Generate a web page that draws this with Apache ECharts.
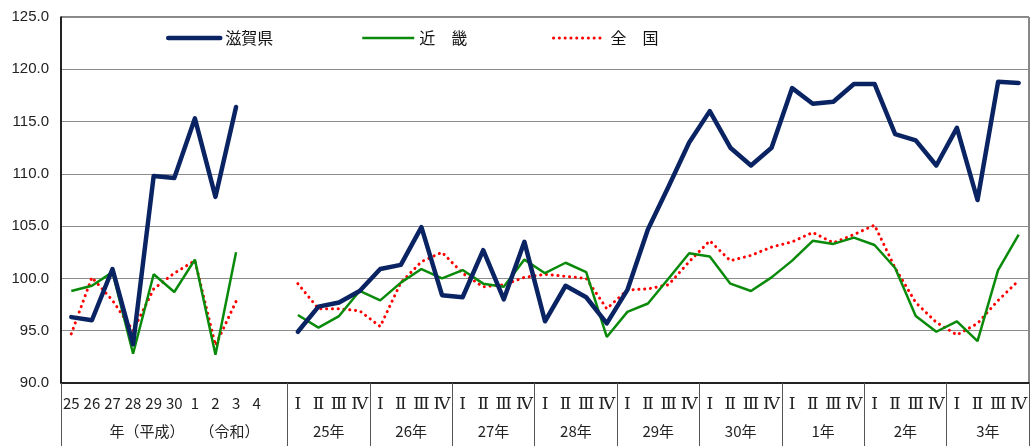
<!DOCTYPE html>
<html>
<head>
<meta charset="utf-8">
<script src="https://cdn.jsdelivr.net/npm/echarts@6/dist/echarts.min.js"></script>
<style>
    html, body { margin: 0; padding: 0; background: #fff; }
    .index .chart { width: 1032px; height: 446px; }
</style>
</head>
<body>
<div class="index"><div class="chart"></div></div>
<script>
// 年次（平成25年～令和4年）
var yearLabels = ['25', '26', '27', '28', '29', '30', '1', '2', '3', '4'];
// 四半期
var quarterLabels = ['Ⅰ', 'Ⅱ', 'Ⅲ', 'Ⅳ'];
var quarterYears = ['25年', '26年', '27年', '28年', '29年', '30年', '1年', '2年', '3年'];
var yearGroupLabel = '年（平成）　　（令和）';

var seriesNames = ['滋賀県', '近　畿', '全　国'];

var shigaYear = [96.3, 96.0, 100.9, 93.7, 109.8, 109.6, 115.3, 107.8, 116.4, null];
var kinkiYear = [98.8, 99.3, 100.6, 92.8, 100.4, 98.7, 101.8, 92.7, 102.5, null];
var zenkokuYear = [94.7, 100.1, 97.9, 95.0, 99.0, 100.5, 101.7, 93.6, 97.8, null];

var shigaQuarter = [94.9, 97.3, 97.7, 98.8, 100.9, 101.3, 104.9, 98.4, 98.2, 102.7, 98.0, 103.5,
    95.9, 99.3, 98.2, 95.7, 98.9, 104.7, 108.8, 113.0, 116.0, 112.5, 110.8, 112.5,
    118.2, 116.7, 116.9, 118.6, 118.6, 113.8, 113.2, 110.8, 114.4, 107.5, 118.8, 118.7];
var kinkiQuarter = [96.5, 95.3, 96.4, 98.8, 97.9, 99.6, 100.9, 100.0, 100.8, 99.5, 99.2, 101.8,
    100.5, 101.5, 100.6, 94.4, 96.8, 97.6, 100.0, 102.4, 102.1, 99.5, 98.8, 100.1,
    101.7, 103.6, 103.3, 103.9, 103.2, 101.0, 96.4, 94.9, 95.9, 94.0, 100.8, 104.2];
var zenkokuQuarter = [99.5, 97.1, 97.1, 96.9, 95.4, 99.6, 101.6, 102.5, 100.5, 99.2, 99.4, 100.1,
    100.4, 100.2, 100.0, 97.1, 98.9, 99.0, 99.4, 101.6, 103.6, 101.7, 102.2, 103.0,
    103.5, 104.4, 103.4, 104.2, 105.1, 101.0, 97.7, 95.8, 94.6, 95.7, 97.9, 99.8];

(function () {
    var myChart = echarts.init(document.querySelector('.index .chart'));

    // 1段目の区分：年次 + 空き1枠 + 四半期
    var categories = yearLabels.slice();
    categories.push('');
    quarterYears.forEach(function () {
        categories = categories.concat(quarterLabels);
    });
    var nYear = yearLabels.length + 1;

    function join(yearData, quarterData) {
        return yearData.concat([null]).concat(quarterData);
    }

    // 2段目のラベル位置と区切り線
    var groupPos = [6];
    var groupText = {6: yearGroupLabel};
    var groupTicks = [0, nYear];
    quarterYears.forEach(function (y, i) {
        var p = nYear + i * 4 + 2;
        groupPos.push(p);
        groupText[p] = y;
        groupTicks.push(nYear + (i + 1) * 4);
    });

    var cjk = "'Noto Sans CJK JP', sans-serif";

    var lineStyles = [
        { color: '#0a2463', width: 4.5, cap: 'round', join: 'round' },
        { color: '#0a8a0a', width: 2.5 },
        { color: '#ff0000', width: 3, type: [0.1, 5.7], cap: 'round' }
    ];

    function legendAt(left, idx) {
        return {
            left: left,
            top: 30,
            padding: 0,
            itemWidth: 52,
            itemHeight: 14,
            data: [seriesNames[idx]],
            // 凡例は線だけ（記号なし）
            itemStyle: { opacity: 0 },
            lineStyle: lineStyles[idx],
            textStyle: { fontSize: 16, color: '#111', fontFamily: cjk }
        };
    }

    var option = {
        animation: false,
        legend: [
            legendAt(166, 0),
            legendAt(361, 1),
            legendAt(552, 2)
        ],
        grid: {
            left: 61,
            right: 3,
            top: 17,
            bottom: 63,
            show: true,
            borderColor: '#111',
            borderWidth: 1
        },
        xAxis: [
            {
                type: 'category',
                data: categories,
                boundaryGap: true,
                axisLine: { lineStyle: { color: '#000', width: 1.5 } },
                axisTick: {
                    interval: 0,
                    length: 32,
                    lineStyle: { color: '#888' }
                },
                axisLabel: {
                    interval: 0,
                    margin: 13,
                    fontSize: 15,
                    color: '#222',
                    fontFamily: cjk,
                    formatter: function (v, i) {
                        return i >= nYear ? '{q|' + v + '}' : v;
                    },
                    rich: {
                        q: { fontSize: 17, fontFamily: "'DejaVu Serif', serif", color: '#222' }
                    }
                }
            },
            {
                type: 'value',
                min: 0,
                max: categories.length,
                position: 'bottom',
                axisLine: { show: false },
                splitLine: { show: false },
                axisTick: {
                    show: true,
                    customValues: groupTicks,
                    length: 63,
                    lineStyle: { color: '#555' }
                },
                axisLabel: {
                    customValues: groupPos,
                    margin: 41,
                    fontSize: 15,
                    color: '#222',
                    fontFamily: cjk,
                    formatter: function (v) {
                        return groupText[v] || '';
                    }
                }
            }
        ],
        yAxis: {
            type: 'value',
            min: 90,
            max: 125,
            interval: 5,
            axisLine: { show: true, lineStyle: { color: '#000', width: 1.5 } },
            axisTick: { show: false },
            axisLabel: {
                margin: 12,
                fontSize: 15,
                color: '#222',
                fontFamily: "'Liberation Sans', Arial, sans-serif",
                formatter: function (v) { return v.toFixed(1); }
            },
            splitLine: { lineStyle: { color: '#8c8c8c', width: 1 } }
        },
        series: [
            {
                name: seriesNames[0],
                type: 'line',
                symbol: 'none',
                z: 4,
                data: join(shigaYear, shigaQuarter),
                lineStyle: lineStyles[0],
                itemStyle: { color: lineStyles[0].color }
            },
            {
                name: seriesNames[1],
                type: 'line',
                symbol: 'none',
                z: 3,
                data: join(kinkiYear, kinkiQuarter),
                lineStyle: lineStyles[1],
                itemStyle: { color: lineStyles[1].color }
            },
            {
                name: seriesNames[2],
                type: 'line',
                symbol: 'none',
                z: 2,
                data: join(zenkokuYear, zenkokuQuarter),
                lineStyle: lineStyles[2],
                itemStyle: { color: lineStyles[2].color }
            }
        ]
    };
    myChart.setOption(option);
    window.addEventListener('resize', function () {
        myChart.resize();
    })
})();
</script>
</body>
</html>
